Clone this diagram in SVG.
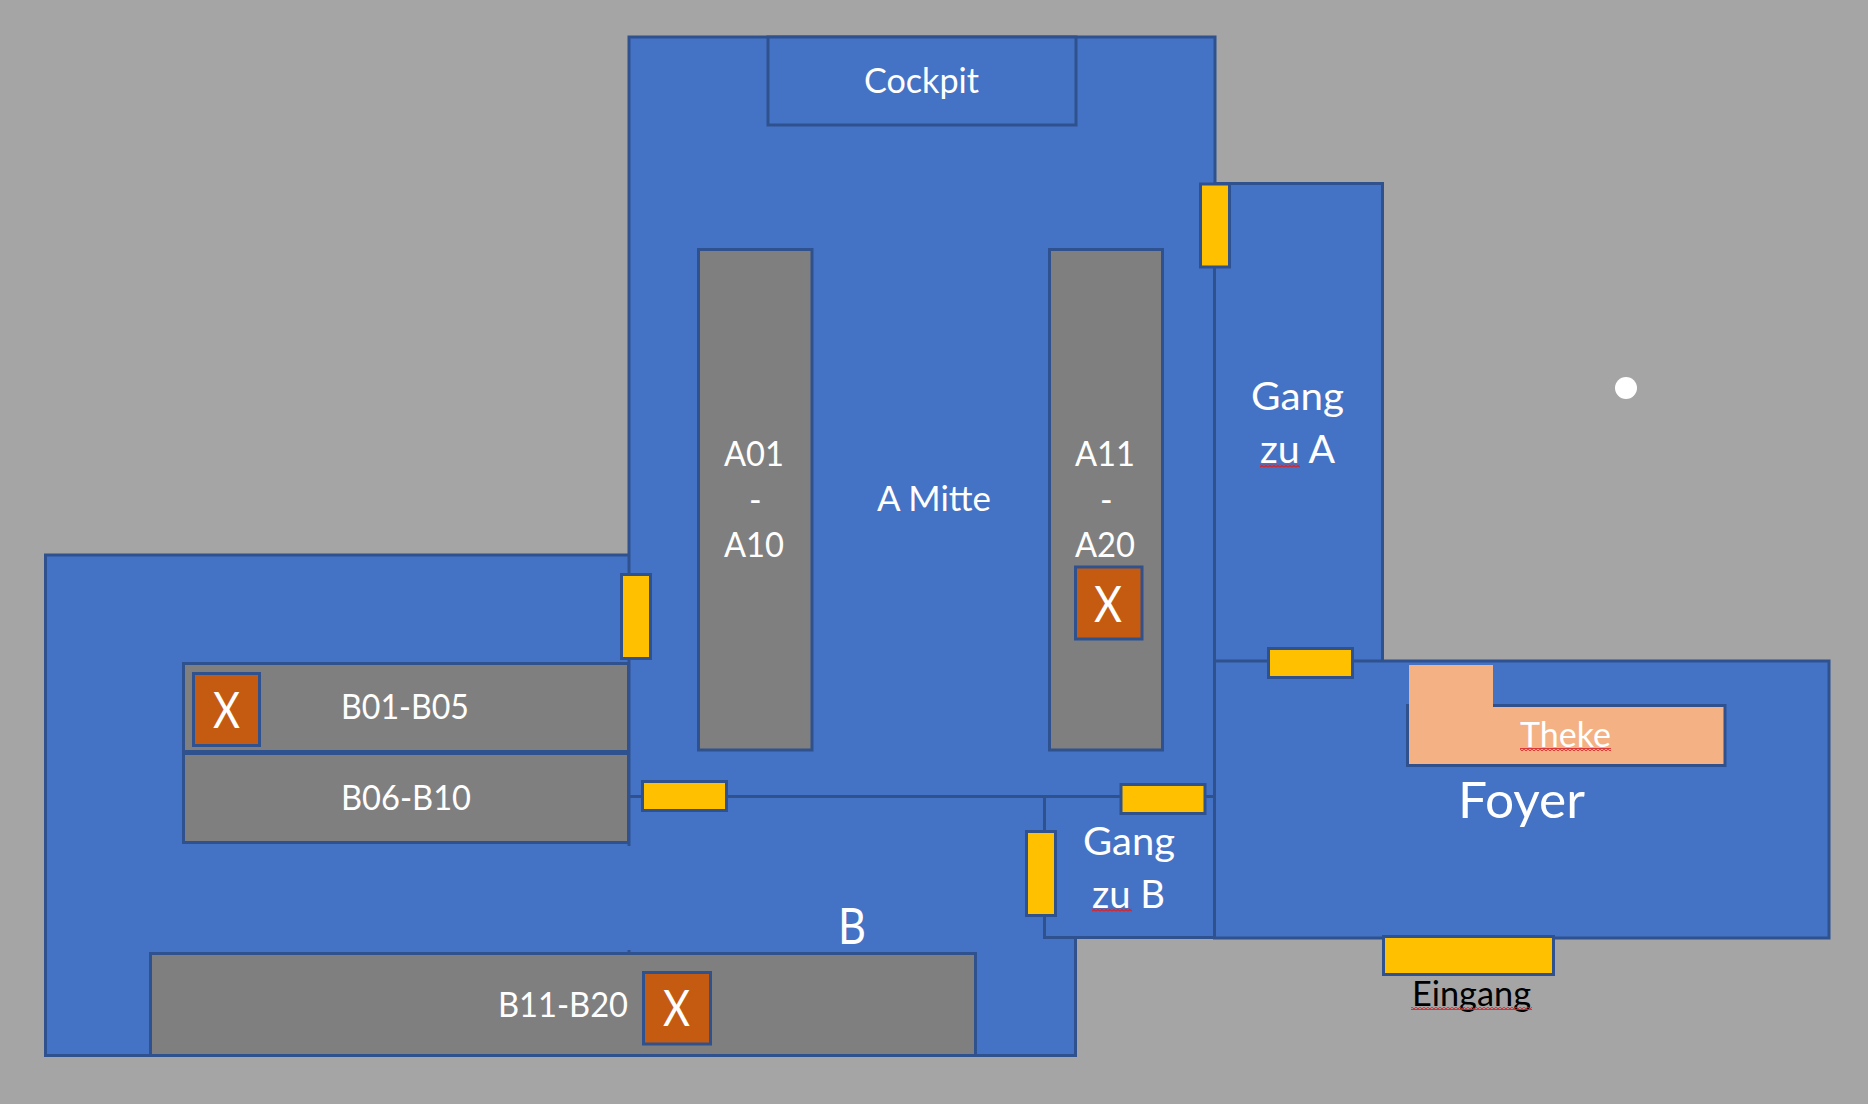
<svg xmlns="http://www.w3.org/2000/svg" width="1868" height="1104" viewBox="0 0 1868 1104">
<style>
.room{fill:#4472c4;stroke:none}
.wall{fill:none;stroke:#2f528f;stroke-width:3}
.blk{fill:#7f7f7f;stroke:#2f528f;stroke-width:3}
.door{fill:#ffc000;stroke:#2f528f;stroke-width:3}
.x{fill:#c55a11;stroke:#2f528f;stroke-width:3}
text{font-family:"Lato","Liberation Sans",sans-serif;fill:#fff;text-anchor:start}
.s33{font-size:34px}.s38{font-size:39px}.s48{font-size:50px}
</style>
<defs>
<pattern id="sq" width="4" height="3" patternUnits="userSpaceOnUse"><path d="M0 2.500L2 .5L4 2.500" fill="none" stroke="#d8242c" stroke-width="1.300"/></pattern>
</defs>
<rect width="1868" height="1104" fill="#a5a5a5"/>

<g id="room-a-mitte">
<rect class="room" x="629" y="37" width="586" height="759"/>
<path class="wall" d="M629 555V37H1215V184M1215 267V661"/>
</g>
<g id="room-b">
<path class="room" d="M45.500 555.500H629V796H1075.500V1055H45.500Z"/>
<path class="wall" d="M629 555H45.500V1055.500H1075.500V937.500"/>
<path class="wall" d="M629 555V846M629 950V953"/>
</g>
<g id="gang-zu-b">
<rect class="room" x="1044.500" y="796.500" width="170" height="141"/>
<path class="wall" d="M629 796.500H1214.500M1044.500 796.500V937.500H1214.500V796.500"/>
</g>
<g id="gang-zu-a">
<rect class="room" x="1214.500" y="183.500" width="168" height="478"/>
<path class="wall" d="M1214.500 661V183.500H1382.500V661"/>
</g>
<g id="foyer">
<rect class="wall" style="fill:#4472c4" x="1214.500" y="661" width="614.500" height="277"/>
</g>

<g id="cockpit"><rect class="wall" style="fill:#4472c4" x="768" y="37" width="308" height="88"/>
<text class="s33" x="864" y="93" textLength="115" lengthAdjust="spacingAndGlyphs">Cockpit</text></g>

<g id="block-a01">
<rect class="blk" x="698.500" y="249.500" width="113.500" height="500.500"/>
<text class="s33" x="724" y="466" textLength="60" lengthAdjust="spacingAndGlyphs">A01</text>
<text class="s33" x="749" y="512">-</text>
<text class="s33" x="724" y="557" textLength="60" lengthAdjust="spacingAndGlyphs">A10</text>
</g>
<g id="block-a11">
<rect class="blk" x="1049.500" y="249.500" width="113" height="500.500"/>
<text class="s33" x="1075" y="466" textLength="60" lengthAdjust="spacingAndGlyphs">A11</text>
<text class="s33" x="1100" y="512">-</text>
<text class="s33" x="1075" y="557" textLength="60" lengthAdjust="spacingAndGlyphs">A20</text>
<rect class="x" x="1075.500" y="567" width="66.500" height="72"/>
<text class="s48" x="1094" y="622" textLength="28" lengthAdjust="spacingAndGlyphs">X</text>
</g>
<text id="label-a-mitte" class="s33" x="877" y="511" textLength="114" lengthAdjust="spacingAndGlyphs">A Mitte</text>

<g id="block-b01">
<rect class="blk" x="183.500" y="663.500" width="445" height="88"/>
<rect class="x" x="193.500" y="673.500" width="66" height="72"/>
<text class="s48" x="213" y="728" textLength="27" lengthAdjust="spacingAndGlyphs">X</text>
<text class="s33" x="341" y="719" textLength="128" lengthAdjust="spacingAndGlyphs">B01-B05</text>
</g>
<g id="block-b06">
<rect class="blk" x="183.500" y="753.500" width="445" height="89"/>
<text class="s33" x="341" y="810" textLength="130" lengthAdjust="spacingAndGlyphs">B06-B10</text>
</g>
<g id="block-b11">
<rect class="blk" x="150.500" y="953.500" width="825" height="102"/>
<text class="s33" x="498" y="1017" textLength="130" lengthAdjust="spacingAndGlyphs">B11-B20</text>
<rect class="x" x="643.500" y="972.500" width="67" height="71.500"/>
<text class="s48" x="663" y="1026" textLength="27" lengthAdjust="spacingAndGlyphs">X</text>
</g>
<text id="label-b" class="s48" x="838" y="944" textLength="28" lengthAdjust="spacingAndGlyphs">B</text>

<g id="label-gang-a">
<text class="s38" x="1251" y="410" textLength="93" lengthAdjust="spacingAndGlyphs">Gang</text>
<text class="s38" x="1260" y="463" textLength="75" lengthAdjust="spacingAndGlyphs">zu A</text>
<rect x="1260" y="464.500" width="40" height="3" fill="url(#sq)"/>
</g>
<g id="label-gang-b">
<text class="s38" x="1083" y="855" textLength="92" lengthAdjust="spacingAndGlyphs">Gang</text>
<text class="s38" x="1092" y="908" textLength="73" lengthAdjust="spacingAndGlyphs">zu B</text>
<rect x="1092" y="908.500" width="40" height="3" fill="url(#sq)"/>
</g>

<g id="theke">
<rect class="wall" style="fill:#f4b183" x="1407.500" y="705.500" width="317.500" height="60"/>
<rect x="1409" y="665" width="84" height="45" fill="#f4b183"/>
<text class="s33" x="1520" y="747" textLength="91" lengthAdjust="spacingAndGlyphs">Theke</text>
<rect x="1520" y="748" width="91" height="3" fill="url(#sq)"/>
</g>
<text id="label-foyer" class="s48" x="1458" y="818" textLength="127" lengthAdjust="spacingAndGlyphs">Foyer</text>

<g id="doors">
<rect class="door" x="621.500" y="574.500" width="29" height="84"/>
<rect class="door" x="642.500" y="781.500" width="84" height="29"/>
<rect class="door" x="1121" y="784.500" width="84" height="29"/>
<rect class="door" x="1026.500" y="831.500" width="29" height="84"/>
<rect class="door" x="1200.500" y="184" width="29" height="83"/>
<rect class="door" x="1268.500" y="648.500" width="84" height="29"/>
<rect class="door" x="1383.500" y="936.500" width="170" height="38"/>
</g>
<g id="eingang">
<text class="s33" x="1412" y="1006" textLength="119" lengthAdjust="spacingAndGlyphs" style="fill:#000">Eingang</text>
<rect x="1411" y="1007" width="121" height="3" fill="url(#sq)"/>
</g>
<circle id="dot" cx="1626" cy="388" r="11" fill="#fff"/>
</svg>
